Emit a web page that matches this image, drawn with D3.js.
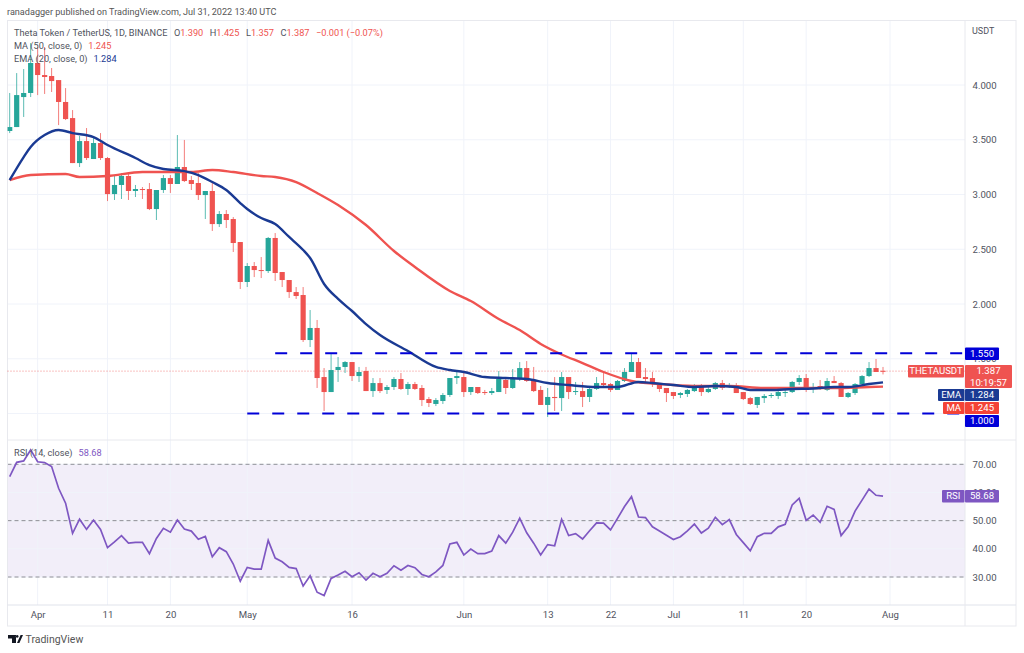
<!DOCTYPE html>
<html>
<head>
<meta charset="utf-8">
<script src="https://cdn.jsdelivr.net/npm/d3@7"></script>
<style>
  html, body { margin: 0; padding: 0; background: #fff; }
  svg { display: block; }
  text { font-family: Roboto, "Open Sans", sans-serif; }
</style>
</head>
<body>
<div id="chart"></div>
<script>
const startDate = "2022-03-28";

const opens = [3.580,3.616,3.890,3.927,4.201,4.091,4.082,4.045,3.845,3.698,3.287,3.488,3.324,3.470,3.333,3.004,3.087,3.169,3.032,3.050,3.050,2.867,3.041,3.150,3.096,3.251,3.132,3.105,2.995,3.032,2.730,2.822,2.776,2.566,2.201,2.347,2.310,2.301,2.603,2.292,2.219,2.109,2.082,1.671,1.781,1.333,1.196,1.397,1.425,1.470,1.342,1.388,1.205,1.278,1.215,1.242,1.315,1.224,1.269,1.233,1.132,1.087,1.114,1.169,1.324,1.333,1.196,1.242,1.196,1.187,1.196,1.306,1.233,1.315,1.415,1.306,1.215,1.078,1.151,1.141,1.333,1.196,1.205,1.151,1.224,1.278,1.269,1.215,1.297,1.379,1.470,1.333,1.324,1.269,1.233,1.196,1.169,1.178,1.205,1.251,1.196,1.224,1.278,1.251,1.260,1.196,1.141,1.078,1.141,1.160,1.160,1.187,1.196,1.288,1.324,1.224,1.251,1.215,1.297,1.278,1.151,1.187,1.269,1.342,1.415,1.390];
const highs = [3.927,4.109,4.146,4.383,4.347,4.347,4.155,4.045,3.972,3.771,3.534,3.607,3.525,3.561,3.342,3.178,3.196,3.205,3.087,3.068,3.105,3.041,3.178,3.178,3.543,3.498,3.169,3.196,3.032,3.114,2.849,2.858,2.794,2.566,2.374,2.383,2.429,2.612,2.648,2.292,2.219,2.155,2.155,1.945,1.854,1.415,1.543,1.516,1.479,1.470,1.425,1.425,1.324,1.324,1.260,1.333,1.370,1.288,1.288,1.260,1.151,1.141,1.187,1.324,1.397,1.388,1.242,1.242,1.215,1.233,1.388,1.324,1.406,1.470,1.479,1.425,1.251,1.233,1.333,1.379,1.333,1.288,1.288,1.242,1.333,1.379,1.278,1.306,1.415,1.543,1.507,1.415,1.379,1.278,1.233,1.196,1.196,1.224,1.269,1.269,1.242,1.288,1.306,1.278,1.278,1.196,1.151,1.151,1.178,1.187,1.215,1.215,1.297,1.351,1.361,1.278,1.306,1.324,1.342,1.288,1.196,1.278,1.351,1.470,1.498,1.425];
const lows = [3.561,3.616,3.708,3.890,3.908,3.918,3.936,3.634,3.680,3.287,3.251,3.315,3.324,3.315,2.940,2.950,2.959,2.950,2.977,2.959,2.858,2.767,3.014,3.014,3.096,3.114,3.041,2.950,2.776,2.667,2.703,2.694,2.475,2.137,2.155,2.246,2.237,2.283,2.210,2.155,2.055,2.046,1.653,1.607,1.233,1.023,1.196,1.288,1.370,1.297,1.288,1.205,1.151,1.187,1.178,1.215,1.215,1.169,1.215,1.068,1.059,1.068,1.087,1.151,1.269,1.151,1.169,1.178,1.169,1.169,1.196,1.178,1.224,1.297,1.288,1.196,1.078,0.968,1.023,1.023,1.132,1.169,1.059,1.105,1.215,1.242,1.196,1.215,1.288,1.379,1.324,1.288,1.242,1.196,1.105,1.132,1.141,1.151,1.196,1.160,1.187,1.215,1.215,1.233,1.187,1.123,1.078,1.050,1.096,1.141,1.132,1.151,1.187,1.260,1.196,1.187,1.215,1.205,1.278,1.151,1.141,1.169,1.269,1.333,1.379,1.357];
const closes = [3.616,3.908,3.927,4.201,4.091,4.073,4.036,3.845,3.689,3.287,3.488,3.333,3.470,3.333,3.004,3.087,3.169,3.032,3.050,3.041,2.867,3.041,3.150,3.096,3.251,3.123,3.096,2.995,3.032,2.730,2.822,2.767,2.557,2.201,2.347,2.310,2.301,2.603,2.283,2.219,2.109,2.073,1.671,1.781,1.324,1.196,1.397,1.425,1.470,1.342,1.379,1.205,1.278,1.205,1.242,1.315,1.224,1.269,1.224,1.123,1.096,1.123,1.169,1.324,1.342,1.196,1.242,1.187,1.187,1.205,1.315,1.233,1.324,1.415,1.297,1.205,1.078,1.151,1.141,1.333,1.196,1.205,1.151,1.224,1.278,1.260,1.215,1.297,1.379,1.470,1.324,1.315,1.269,1.224,1.187,1.160,1.187,1.215,1.251,1.196,1.224,1.278,1.233,1.260,1.187,1.132,1.087,1.151,1.160,1.169,1.196,1.196,1.288,1.324,1.224,1.242,1.224,1.297,1.278,1.151,1.187,1.269,1.342,1.415,1.379,1.387];

const rsiValues = [65.6,70.7,71.2,75.1,70.9,70.6,69.2,61.5,56.2,45.5,50.5,46.9,50.2,46.9,40.4,42.5,44.7,42.0,42.3,42.3,38.3,43.7,47.3,45.9,50.2,47.0,46.3,43.4,44.4,37.2,40.4,39.0,34.6,28.5,33.4,32.8,32.8,43.0,36.7,35.4,33.4,33.0,26.8,30.4,24.6,23.4,29.5,30.7,32.0,30.1,31.5,28.9,31.3,30.1,31.3,34.0,32.4,34.1,33.3,30.9,30.1,31.8,34.1,41.7,42.3,37.8,39.9,38.3,38.3,39.2,44.7,42.0,45.9,50.9,45.7,42.0,37.8,41.5,41.1,50.5,44.7,45.4,43.5,46.4,49.2,49.1,46.7,50.8,55.0,58.5,51.3,51.1,47.8,46.3,44.8,43.3,44.3,46.4,48.8,45.6,47.3,51.2,48.6,50.4,45.1,42.2,39.3,44.3,45.5,45.5,47.8,48.7,55.6,57.9,50.1,52.0,49.4,55.1,54.0,44.7,47.8,53.4,57.3,61.2,59.0,58.68];

// moving averages at the bends (day = days since startDate)
const emaDays = [0,2,3,5,7,9,12,14,18,20,22,25,27,29,31,33,34,36,38,40,42,43,45,47,49,51,53,57,61,63,65,68,71,74,77,80,84,87,90,92,95,98,101,104,106,109,112,115,118,120,123,125];
const emaValues = [3.132,3.342,3.434,3.543,3.589,3.561,3.525,3.452,3.333,3.269,3.233,3.214,3.178,3.114,3.041,2.922,2.867,2.785,2.730,2.612,2.493,2.420,2.183,2.046,1.936,1.817,1.717,1.571,1.425,1.397,1.379,1.333,1.324,1.315,1.278,1.260,1.242,1.242,1.288,1.278,1.260,1.242,1.251,1.242,1.215,1.215,1.224,1.228,1.242,1.242,1.269,1.284];
const maDays = [0,3,8,10,14,19,23,26,29,32,36,38,41,44,47,51,55,58,63,66,70,73,76,79,82,85,89,93,98,103,108,113,118,123,125];
const maValues = [3.132,3.178,3.187,3.160,3.169,3.205,3.205,3.205,3.224,3.205,3.169,3.160,3.114,3.014,2.904,2.721,2.484,2.338,2.119,2.027,1.863,1.762,1.635,1.539,1.461,1.379,1.297,1.269,1.251,1.251,1.233,1.233,1.233,1.242,1.245];

const priceTicks = [4, 3.5, 3, 2.5, 2, 1.5, 1];
const priceTickLabels = [4, 3.5, 3, 2.5, 2, 1.5];
const rsiTicks = [70, 60, 50, 40, 30];
const rsiDashed = [70, 50, 30];
const timeTickDates = ["2022-04-01","2022-04-11","2022-04-20","2022-05-01","2022-05-16","2022-06-01","2022-06-13","2022-06-22","2022-07-01","2022-07-11","2022-07-20","2022-08-01"];
const timeTickLabels = ["Apr","11","20","May","16","Jun","13","22","Jul","11","20","Aug"];
const levels = [1.55, 1.0];
const levelStarts = ["2022-05-05", "2022-05-01"];

const titleParts = ["Theta Token / TetherUS, 1D, BINANCE", "O", "1.390", "H", "1.425", "L", "1.357", "C", "1.387", "\u22120.001 (\u22120.07%)"];

const green = "#26a69a", red = "#ef5350", navy = "#1a3a93", purple = "#7e57c2", blue = "#0000d8";
const gridColor = "#f0f3fa", textColor = "#50535e";

const parseDate = d3.utcParse("%Y-%m-%d");
const day0 = parseDate(startDate);
const dayDate = (i) => d3.utcDay.offset(day0, i);

const width = 1024, height = 653;
const frame = { left: 7.5, right: 1016, top: 20.5, bottom: 626, axisX: 965, split: 440, timeY: 605 };

const svg = d3.select("#chart").append("svg").attr("width", width).attr("height", height);

// scales
const x = d3.scaleUtc().domain([day0, parseDate("2022-08-01")]).range([9.7, 890]);
const y = d3.scaleLinear().domain([1, 4]).range([413.5, 85]);
const yRsi = d3.scaleLinear().domain([30, 70]).range([577, 464.3]);

// header
svg.append("text").attr("x", 7).attr("y", 15).attr("font-size", 9.1).attr("fill", "#555")
  .text("ranadagger published on TradingView.com, Jul 31, 2022 13:40 UTC");

// rsi band goes under the grid
svg.append("rect").attr("x", frame.left).attr("width", frame.axisX - frame.left)
  .attr("y", yRsi(70)).attr("height", yRsi(30) - yRsi(70))
  .attr("fill", purple).attr("fill-opacity", 0.1);

// grid
const clipId = "panes";
svg.append("clipPath").attr("id", clipId).append("rect")
  .attr("x", frame.left).attr("y", frame.top)
  .attr("width", frame.axisX - frame.left).attr("height", frame.timeY - frame.top);

svg.append("g").selectAll("line").data(timeTickDates).join("line")
  .attr("x1", d => x(parseDate(d))).attr("x2", d => x(parseDate(d)))
  .attr("y1", frame.top).attr("y2", frame.timeY)
  .attr("stroke", gridColor);
svg.append("g").selectAll("line").data(priceTicks).join("line")
  .attr("x1", frame.left).attr("x2", frame.axisX)
  .attr("y1", d => y(d)).attr("y2", d => y(d))
  .attr("stroke", gridColor);
svg.append("g").selectAll("line").data(rsiTicks).join("line")
  .attr("x1", frame.left).attr("x2", frame.axisX)
  .attr("y1", d => yRsi(d)).attr("y2", d => yRsi(d))
  .attr("stroke", gridColor);

// rsi guide lines
svg.append("g").selectAll("line").data(rsiDashed).join("line")
  .attr("x1", frame.left).attr("x2", frame.axisX)
  .attr("y1", d => yRsi(d)).attr("y2", d => yRsi(d))
  .attr("stroke", "#8f8f96").attr("stroke-dasharray", "4 3");

// frame and separators
svg.append("rect").attr("x", frame.left).attr("y", frame.top)
  .attr("width", frame.right - frame.left).attr("height", frame.bottom - frame.top)
  .attr("fill", "none").attr("stroke", "#e8e9ee");
svg.append("line").attr("x1", frame.left).attr("x2", frame.right)
  .attr("y1", frame.split).attr("y2", frame.split).attr("stroke", "#e8e9ee");
svg.append("line").attr("x1", frame.left).attr("x2", frame.right)
  .attr("y1", frame.timeY).attr("y2", frame.timeY).attr("stroke", "#e0e3eb");
svg.append("line").attr("x1", frame.axisX).attr("x2", frame.axisX)
  .attr("y1", frame.top).attr("y2", frame.bottom).attr("stroke", "#e8e9ee");

// axes
const styleAxis = (g, size) => {
  g.select(".domain").remove();
  g.selectAll(".tick line").remove();
  g.selectAll("text").attr("fill", textColor).attr("font-size", size).attr("font-family", "Roboto, sans-serif");
};
svg.append("g").attr("transform", `translate(${frame.axisX},0)`)
  .call(d3.axisRight(y).tickValues(priceTickLabels).tickFormat(d3.format(".3f")).tickSize(0).tickPadding(7.5))
  .call(styleAxis, 9.6);
svg.append("g").attr("transform", `translate(${frame.axisX},0)`)
  .call(d3.axisRight(yRsi).tickValues(rsiTicks).tickFormat(d3.format(".2f")).tickSize(0).tickPadding(7.5))
  .call(styleAxis, 9.6);
svg.append("g").attr("transform", `translate(0,${frame.timeY})`)
  .call(d3.axisBottom(x).tickValues(timeTickDates.map(parseDate))
    .tickFormat((d, i) => timeTickLabels[i]).tickSize(0).tickPadding(6))
  .call(styleAxis, 9.6);
svg.append("text").attr("x", 972).attr("y", 34).attr("font-size", 9).attr("fill", textColor).text("USDT");

// last price dotted line
const lastClose = closes[closes.length - 1];
svg.append("line").attr("x1", frame.left).attr("x2", frame.axisX)
  .attr("y1", y(lastClose)).attr("y2", y(lastClose))
  .attr("stroke", red).attr("stroke-opacity", 0.7).attr("stroke-dasharray", "1 2");

const panes = svg.append("g").attr("clip-path", `url(#${clipId})`);

// candles
const candles = opens.map((o, i) => ({ date: dayDate(i), o: o, h: highs[i], l: lows[i], c: closes[i] }));
const candleColor = d => (d.c >= d.o ? green : red);
const candle = panes.append("g").selectAll("g").data(candles).join("g");
candle.append("line")
  .attr("x1", d => x(d.date)).attr("x2", d => x(d.date))
  .attr("y1", d => y(d.h)).attr("y2", d => y(d.l))
  .attr("stroke", candleColor).attr("stroke-opacity", 0.75);
candle.append("rect")
  .attr("x", d => x(d.date) - 2.6).attr("width", 5.2)
  .attr("y", d => y(Math.max(d.o, d.c)))
  .attr("height", d => Math.max(1, Math.abs(y(d.o) - y(d.c))))
  .attr("fill", candleColor);

// support and resistance
svg.append("g").selectAll("line").data(levels).join("line")
  .attr("x1", (d, i) => x(parseDate(levelStarts[i]))).attr("x2", frame.axisX)
  .attr("y1", d => y(d)).attr("y2", d => y(d))
  .attr("stroke", blue).attr("stroke-width", 2).attr("stroke-dasharray", "12 13");

// moving averages
const avgLine = d3.line().x(d => x(d[0])).y(d => y(d[1])).curve(d3.curveMonotoneX);
panes.append("path").attr("fill", "none").attr("stroke", red).attr("stroke-width", 2.4)
  .attr("d", avgLine(maDays.map((d, i) => [dayDate(d), maValues[i]])));
panes.append("path").attr("fill", "none").attr("stroke", navy).attr("stroke-width", 2.4)
  .attr("d", avgLine(emaDays.map((d, i) => [dayDate(d), emaValues[i]])));

// rsi line
panes.append("path").attr("fill", "none").attr("stroke", purple).attr("stroke-width", 1.7)
  .attr("d", d3.line().x((d, i) => x(dayDate(i))).y(d => yRsi(d))(rsiValues));

// legends
const title = svg.append("text").attr("x", 14).attr("y", 35.5).attr("font-size", 9.2).attr("fill", textColor);
titleParts.forEach((t, i) => {
  const isValue = i > 0 && (i % 2 === 0 || i === 9);
  title.append("tspan").attr("dx", i === 0 ? 0 : (isValue && i !== 9 ? 0 : 6.5))
    .attr("fill", isValue ? red : textColor).text(t);
});
const legendRow = (yPos, label, value, color) => {
  const t = svg.append("text").attr("x", 14).attr("y", yPos).attr("font-size", 9.2).attr("fill", textColor);
  t.append("tspan").text(label);
  t.append("tspan").attr("dx", 6).attr("fill", color).text(value);
};
legendRow(48.5, "MA (50, close, 0)", "1.245", red);
legendRow(61.5, "EMA (20, close, 0)", "1.284", navy);
legendRow(456, "RSI (14, close)", "58.68", purple);

// price labels on the axis
const labelBox = (x0, x1, y0, y1, fill, lines) => {
  svg.append("rect").attr("x", x0).attr("y", y0).attr("width", x1 - x0).attr("height", y1 - y0)
    .attr("rx", 1).attr("fill", fill);
  lines.forEach((l, i) => {
    svg.append("text").attr("x", (x0 + x1) / 2).attr("y", y0 + 9.3 + i * 12)
      .attr("text-anchor", "middle").attr("font-size", 9.6).attr("fill", "#fff").text(l);
  });
};
labelBox(965, 999, 347.5, 360, blue, ["1.550"]);
labelBox(908, 964, 365, 377.5, red, ["THETAUSDT"]);
labelBox(965, 1012, 365, 388, red, ["1.387", "10:19:57"]);
labelBox(938, 964.5, 389, 401, navy, ["EMA"]);
labelBox(965, 999, 389, 401, navy, ["1.284"]);
labelBox(943, 964.5, 402, 414, "#f44336", ["MA"]);
labelBox(965, 999, 402, 414, "#f44336", ["1.245"]);
labelBox(965, 999, 415, 427, blue, ["1.000"]);
labelBox(942, 964.5, 490, 502.5, purple, ["RSI"]);
labelBox(965, 999, 490, 502.5, purple, ["58.68"]);

// footer logo
svg.append("path").attr("fill", "#131722")
  .attr("d", "M8 635h8v8h-4v-4.5h-4zM17 643l3.6-8h2.4l-3.6 8zM17.2 635a1.4 1.4 0 1 0 .01 0z");
svg.append("text").attr("x", 25.5).attr("y", 643).attr("font-size", 10.5).attr("fill", "#555").text("TradingView");
</script>
</body>
</html>
